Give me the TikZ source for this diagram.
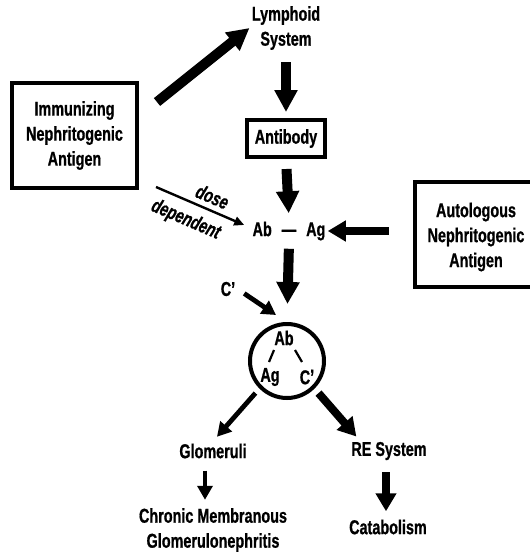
\documentclass[tikz,border=0pt]{standalone}
\usepackage{fontspec}
\setmainfont{Liberation Sans}[FakeStretch=0.72, BoldFeatures={FakeBold=0.8}, BoldItalicFeatures={FakeBold=0.8}]
\usetikzlibrary{arrows.meta}

\tikzset{
  lbl/.style={font=\bfseries\fontsize{10}{12.5}\selectfont, align=center, inner sep=1pt},
  slant/.style={font=\bfseries\itshape\fontsize{10}{12.5}\selectfont},
  boxed/.style={lbl, draw, line width=2pt},
  fatarrow/.style={line width=5pt, -{Triangle[length=11pt,width=11pt]}},
  midarrow/.style={line width=4pt, -{Triangle[length=9pt,width=10pt]}},
  slimarrow/.style={line width=2.4pt, -{Triangle[length=7pt,width=7.5pt]}},
  thinarrow/.style={line width=1.2pt, -{Triangle[length=5pt,width=4.5pt]}}
}

\begin{document}
\begin{tikzpicture}[x=0.5pt,y=-0.5pt]
	\useasboundingbox (0,0) rectangle (530,552);
	% boxes and labels
	\node[lbl] (lym) at (286,28) {Lymphoid\\System};
	\node[boxed, minimum width=62.5pt, minimum height=52.5pt] (imm) at (74.5,135.5) {Immunizing\\Nephritogenic\\Antigen};
	\node[boxed, minimum width=39pt, minimum height=18.5pt] (abody) at (286,138.5) {Antibody};
	\node[lbl] (abag) at (289,231) {Ab\enspace---\enspace Ag};
	% box runs off the right edge
	\node[lbl, minimum width=57.5pt, minimum height=52.5pt] (auto) at (472.5,234.5) {};
	\draw[line width=2pt] (auto.north east) -- (auto.north west) -- (auto.south west) -- (auto.south east);
	\node[lbl] (autotxt) at (476,237) {Autologous\\Nephritogenic\\Antigen};
	\node[lbl] (cprime) at (228,289) {C'};
	% complex
	\node[draw, circle, line width=2pt, minimum size=37pt] (cx) at (287,361) {};
	\node[lbl] (cab) at (284,338) {Ab};
	\node[lbl] (cag) at (270,377) {Ag};
	\node[lbl] (cc) at (307,377) {C\raisebox{1.1ex}{,}};
	\draw[line width=1.1pt] ([shift={(-9pt,-0.5pt)}]cx.center) -- ([shift={(-6.5pt,5.5pt)}]cx.center);
	\draw[line width=1.1pt] ([shift={(4pt,5.5pt)}]cx.center) -- ([shift={(7.5pt,-0.5pt)}]cx.center);
	\node[lbl] (glom) at (213,451) {Glomeruli};
	\node[lbl] (re) at (389,451) {RE System};
	\node[lbl] (chr) at (213,530) {Chronic Membranous\\Glomerulonephritis};
	\node[lbl] (cat) at (388,527) {Catabolism};
	\coordinate (ctip) at (276,315);
	% arrows
	\draw[fatarrow] ([xshift=9pt,yshift=-10.5pt]imm.north east) -- (lym.west);
	\draw[fatarrow, shorten <=5pt, shorten >=3pt] (lym.south) -- (abody.north);
	\draw[fatarrow, shorten <=5pt, shorten >=3pt] (abody.south) -- (abag.north);
	\draw[midarrow, shorten <=13pt] (auto.west |- abag.east) -- (abag.east);
	\draw[thinarrow] ([xshift=8.5pt,yshift=1.5pt]imm.south east) -- ([xshift=-3pt,yshift=3pt]abag.west)
		node[lbl, slant, pos=.58, sloped, above=1.5pt] {dose}
		node[lbl, slant, pos=.42, sloped, below=3pt] {dependent};
	\draw[fatarrow, shorten <=3pt, shorten >=9pt] (abag.south) -- (cx.north);
	\draw[slimarrow, shorten <=4pt] (cprime.east) -- (ctip);
	\draw[slimarrow, shorten <=3pt, shorten >=3pt] (cx.south west) -- (glom.north);
	\draw[midarrow, shorten <=3pt, shorten >=2pt] (cx.south east) -- ([xshift=5pt]re.north west);
	\draw[slimarrow, shorten <=5pt, shorten >=3pt] ([xshift=-4pt]glom.south) -- ([xshift=-4pt]chr.north);
	\draw[midarrow, shorten <=5pt, shorten >=3pt] ([xshift=-1.5pt]re.south) -- ([xshift=-1pt]cat.north);
\end{tikzpicture}
\end{document}
